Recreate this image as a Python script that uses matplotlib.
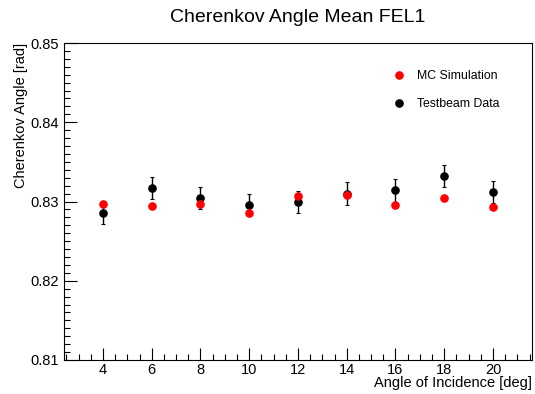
import numpy as np
import matplotlib.pyplot as plt
from matplotlib.ticker import MultipleLocator
from matplotlib.lines import Line2D

plt.rcParams['font.family'] = ['Liberation Sans', 'DejaVu Sans']

# incidence angles [deg]
angles = [4, 6, 8, 10, 12, 14, 16, 18, 20]
mc_sim = [0.8297, 0.8294, 0.8297, 0.8285, 0.8307, 0.8308, 0.8296, 0.8304, 0.8293]
tb_data = [0.8286, 0.8317, 0.8304, 0.8296, 0.8299, 0.8310, 0.8314, 0.8332, 0.8312]
tb_err = [0.0014, 0.0014, 0.0014, 0.0014, 0.0014, 0.0014, 0.0014, 0.0014, 0.0014]

fig = plt.figure(figsize=(5.35, 3.94), dpi=100)
ax = fig.add_axes([0.1196, 0.0863, 0.8748, 0.8045])

ax.errorbar(angles, tb_data, yerr=tb_err, fmt='o', color='black', ms=5.2,
            elinewidth=1.0, capsize=1.5, capthick=0.8, zorder=2)
ax.plot(angles, mc_sim, 'o', color='red', ms=5.2, zorder=3)

ax.set_xlim(2.4, 21.6)
ax.set_ylim(0.81, 0.85)
ax.xaxis.set_major_locator(MultipleLocator(2))
ax.xaxis.set_minor_locator(MultipleLocator(0.5))
ax.yaxis.set_major_locator(MultipleLocator(0.01))
ax.yaxis.set_minor_locator(MultipleLocator(0.001))
ax.set_xticks([4, 6, 8, 10, 12, 14, 16, 18, 20])
ax.tick_params(which='both', direction='in', top=False, right=False, labelsize=10.5)
ax.tick_params(axis='x', which='both', pad=2.5)
ax.tick_params(which='major', length=9, width=0.8)
ax.tick_params(which='minor', length=4.5, width=0.8)
ax.yaxis.set_major_formatter(plt.FormatStrFormatter('%.2f'))
for s in ax.spines.values():
    s.set_linewidth(0.8)

ax.set_xlabel('Angle of Incidence [deg]', fontsize=10.5, ha='right', x=1.0, labelpad=-1)
ax.set_ylabel('Cherenkov Angle [rad]', fontsize=10.5, ha='right', y=1.0, labelpad=2)
fig.suptitle('Cherenkov Angle Mean FEL1', fontsize=14, x=0.557, y=0.978)

leg_handles = [Line2D([], [], ls='none', marker='o', color='red', ms=5.2),
               Line2D([], [], ls='none', marker='o', color='black', ms=5.2)]
ax.legend(leg_handles, ['MC Simulation', 'Testbeam Data'], loc='upper right',
          bbox_to_anchor=(0.955, 0.95), frameon=False, fontsize=8.8, handletextpad=1.0,
          labelspacing=1.35, handlelength=1.0)

plt.savefig('out.png', dpi=100)
